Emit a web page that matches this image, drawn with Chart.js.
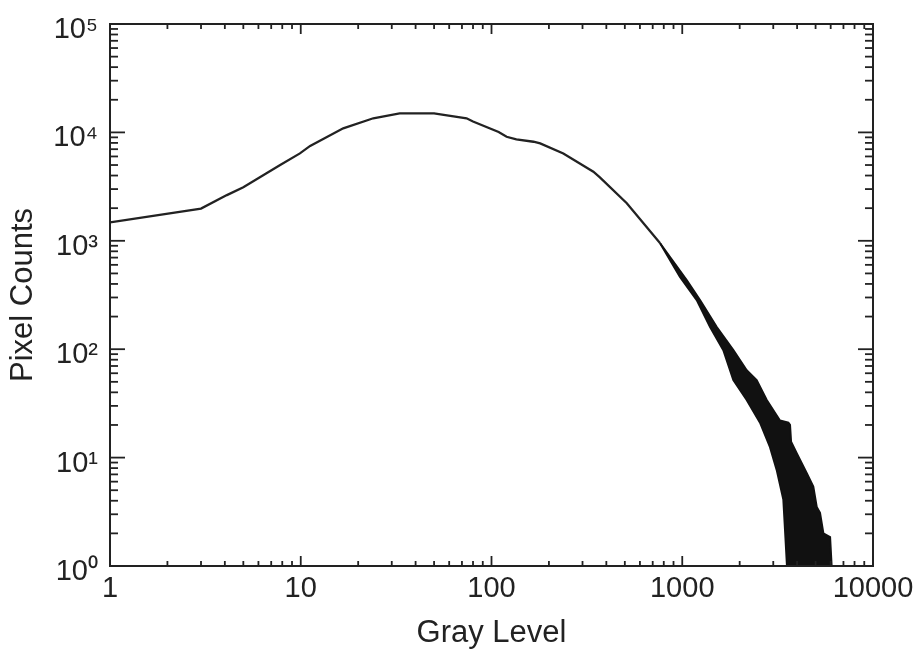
<!DOCTYPE html>
<html><head><meta charset="utf-8">
<script src="https://cdn.jsdelivr.net/npm/chart.js@4.4.0/dist/chart.umd.min.js"></script>
<style>html,body{margin:0;padding:0;background:#fff}#wrap{width:917px;height:649px}</style>
</head><body><div id="wrap"><canvas id="c" width="917" height="649"></canvas></div>
<script>
// tick values and labels
const xTickValues = [1, 10, 100, 1000, 10000];
const xTickLabels = ['1', '10', '100', '1000', '10000'];
const yTickValues = [1, 10, 100, 1000, 10000, 100000];
const yTickLabels = ['10\u2070', '10\u00B9', '10\u00B2', '10\u00B3', '10\u2074', '10\u2075'];

// main histogram curve (gray level vs pixel counts)
const mainGray  = [1, 3, 4.1, 5, 7.8, 9.9, 11.2, 16.7, 24, 33, 50, 54, 74, 80, 109, 120, 135, 166, 180, 238, 342, 370, 512, 764];
const mainCount = [1480, 1980, 2640, 3120, 5000, 6400, 7500, 10900, 13500, 15000, 15000, 14700, 13500, 12600, 10100, 9120, 8630, 8200, 7920, 6400, 4340, 3850, 2220, 955];

// noisy tail: upper envelope
const tailGrayUpper  = [764, 863, 1055, 1239, 1517, 1853, 2177, 2455, 2773, 3253, 3600, 3673, 3720, 3981, 4489, 4864, 5070, 5275, 5495, 5957, 6070];
const tailCountUpper = [955, 709, 435, 284, 160, 98, 64, 52, 34, 22, 21, 20, 14, 11, 7.2, 5.4, 3.5, 3.1, 2.0, 1.85, 1];
// noisy tail: lower envelope
const tailGrayLower  = [764, 973, 1191, 1399, 1642, 1853, 2177, 2557, 2884, 3126, 3388, 3457, 3540, 6070];
const tailCountLower = [955, 463, 284, 160, 98, 52, 34, 21, 12.5, 7.7, 4.1, 2.15, 1, 1];

const INK = '#222';
const FONT = "'Liberation Sans', Arial, sans-serif";

function pts(xs, ys) { return xs.map((x, i) => ({ x: x, y: ys[i] })); }

const frameTicks = {
  id: 'frameTicks',
  afterDraw(chart) {
    const { ctx, chartArea: a, scales: { x, y } } = chart;
    ctx.save();
    ctx.strokeStyle = INK;
    ctx.lineWidth = 2;
    ctx.strokeRect(a.left, a.top, a.right - a.left, a.bottom - a.top);
    ctx.lineWidth = 1.8;
    const seg = (x1, y1, x2, y2) => { ctx.beginPath(); ctx.moveTo(x1, y1); ctx.lineTo(x2, y2); ctx.stroke(); };
    for (let k = 0; k <= 4; k++) for (let m = 1; m <= 9; m++) {
      const v = m * Math.pow(10, k); if (v > 10000) break;
      const px = x.getPixelForValue(v); const len = m === 1 ? 10 : 5;
      seg(px, a.bottom, px, a.bottom - len); seg(px, a.top, px, a.top + len);
    }
    for (let k = 0; k <= 5; k++) for (let m = 1; m <= 9; m++) {
      const v = m * Math.pow(10, k); if (v > 100000) break;
      const py = y.getPixelForValue(v); const len = m === 1 ? 15 : 8;
      seg(a.left, py, a.left + len, py); seg(a.right, py, a.right - len, py);
    }
    ctx.restore();
  }
};

new Chart(document.getElementById('c'), {
  type: 'line',
  data: {
    datasets: [
      { data: pts(mainGray, mainCount), borderColor: INK, borderWidth: 2.3, pointRadius: 0, fill: false, tension: 0 },
      { data: pts(tailGrayUpper, tailCountUpper), borderColor: '#111', borderWidth: 2, pointRadius: 0, fill: '+1', backgroundColor: '#111', tension: 0 },
      { data: pts(tailGrayLower, tailCountLower), borderColor: '#111', borderWidth: 2, pointRadius: 0, fill: false, tension: 0 }
    ]
  },
  options: {
    responsive: false,
    animation: false,
    layout: { padding: { left: 0, top: 24, right: 44, bottom: 0 } },
    plugins: { legend: { display: false }, tooltip: { enabled: false } },
    scales: {
      x: {
        type: 'logarithmic', min: 1, max: 10000,
        afterBuildTicks: s => { s.ticks = xTickValues.map(v => ({ value: v })); },
        afterFit: s => { s.height = 83; s.paddingLeft = 0; s.paddingRight = 0; },
        grid: { display: false, drawTicks: false },
        border: { display: false },
        ticks: { autoSkip: false, maxRotation: 0, padding: 6, color: INK, font: { family: FONT, size: 29 },
          callback: (v, i) => xTickLabels[i] },
        title: { display: true, text: 'Gray Level', color: INK, font: { family: FONT, size: 31 }, padding: { top: 0, bottom: -3 } }
      },
      y: {
        type: 'logarithmic', min: 1, max: 100000,
        afterBuildTicks: s => { s.ticks = yTickValues.map(v => ({ value: v })); },
        afterFit: s => { s.width = 110; s.paddingTop = 0; s.paddingBottom = 0; },
        grid: { display: false, drawTicks: false },
        border: { display: false },
        ticks: { autoSkip: false, padding: 12, labelOffset: 6, color: INK, font: { family: FONT, size: 29 },
          callback: (v, i) => yTickLabels[i] },
        title: { display: true, text: 'Pixel Counts', color: INK, font: { family: FONT, size: 31 }, padding: { top: 5, bottom: 0 } }
      }
    }
  },
  plugins: [frameTicks]
});
</script>
</body></html>
